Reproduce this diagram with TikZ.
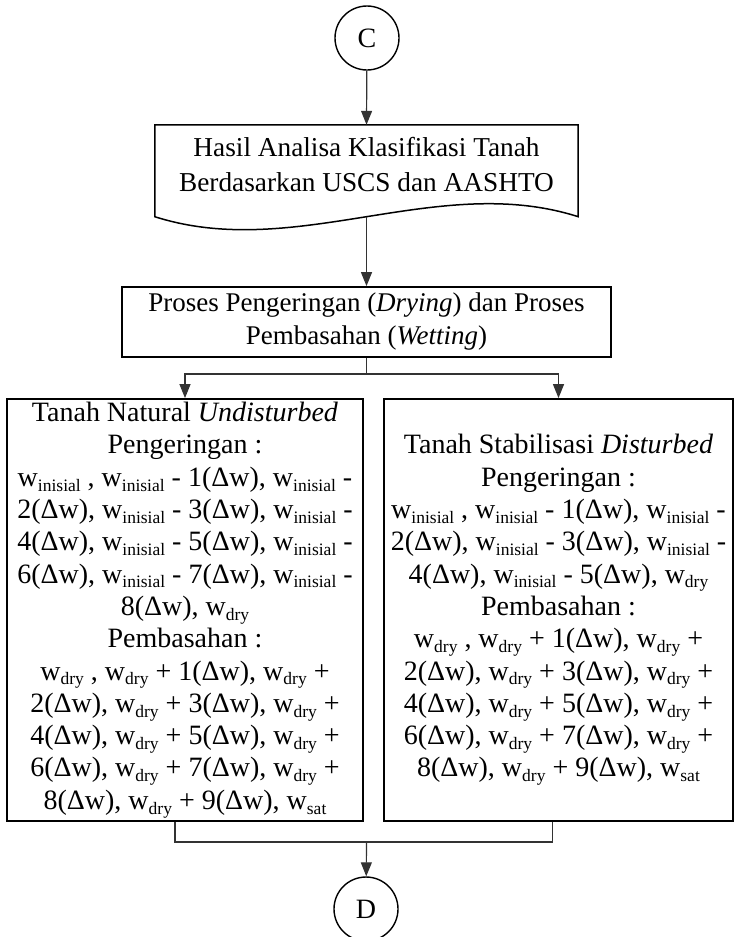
\documentclass[tikz,border=0pt]{standalone}
\usepackage{fontspec}
\setmainfont{Liberation Serif}
\usetikzlibrary{arrows.meta,positioning,shapes}
\newcommand{\subtx}[1]{\raisebox{-0.17em}{\fontsize{17.5}{17.5}\selectfont #1}}
\newcommand{\wini}{w\subtx{inisial}}
\newcommand{\wdry}{w\subtx{dry}}
\newcommand{\wsat}{w\subtx{sat}}
\newcommand{\dw}{(Δw)}

\begin{document}
\begin{tikzpicture}[x=1pt,y=-1pt,
	font=\fontsize{28}{32.3}\selectfont,
	konektor/.style={circle,draw,line width=1.4pt,minimum size=64pt,inner sep=0pt},
	kotak/.style={draw,line width=1.8pt,align=center,inner sep=0pt},
	garis/.style={draw=black!80,line width=1.2pt},
	panah/.style={garis,-{Triangle[width=11pt,length=14pt]}}]
	\useasboundingbox (0,0) rectangle (735,937);

	% penghubung awal
	\node[konektor] (C) at (367,38) {C};

	% dokumen hasil klasifikasi
	\node[minimum width=423pt,minimum height=79pt,inner sep=0pt,align=center,
		font=\fontsize{27.3}{35}\selectfont] (doc) at (366.5,164.5)
		{Hasil Analisa Klasifikasi Tanah\\Berdasarkan USCS dan AASHTO};
	\draw[line width=1.5pt] (doc.north west) -- (doc.north east) -- ([yshift=-12.5pt]doc.south east)
		.. controls +(-141,-45) and +(141,45) .. ([yshift=-12.5pt]doc.south west) -- cycle;
	\coordinate (docb) at ([yshift=-12.5pt]doc.south);

	% proses pengeringan dan pembasahan
	\node[kotak,minimum width=489pt,minimum height=70pt,font=\fontsize{27}{33}\selectfont]
		(proc) at (366.5,322)
		{Proses Pengeringan (\textit{Drying}) dan Proses\\Pembasahan (\textit{Wetting})};

	% tanah natural
	\node[kotak,minimum width=356pt,minimum height=422pt] (nat) at (185,610)
		{Tanah Natural \textit{Undisturbed}\\
		Pengeringan :\\
		\wini{} , \wini{} - 1\dw, \wini{} -\\
		2\dw, \wini{} - 3\dw, \wini{} -\\
		4\dw, \wini{} - 5\dw, \wini{} -\\
		6\dw, \wini{} - 7\dw, \wini{} -\\
		8\dw, \wdry\\
		Pembasahan :\\
		\wdry{} , \wdry{} + 1\dw, \wdry{} +\\
		2\dw, \wdry{} + 3\dw, \wdry{} +\\
		4\dw, \wdry{} + 5\dw, \wdry{} +\\
		6\dw, \wdry{} + 7\dw, \wdry{} +\\
		8\dw, \wdry{} + 9\dw, \wsat};

	% tanah stabilisasi
	\node[kotak,minimum width=349pt,minimum height=422pt] (stab) at (558.5,610)
		{Tanah Stabilisasi \textit{Disturbed}\\
		Pengeringan :\\
		\wini{} , \wini{} - 1\dw, \wini{} -\\
		2\dw, \wini{} - 3\dw, \wini{} -\\
		4\dw, \wini{} - 5\dw, \wdry\\
		Pembasahan :\\
		\wdry{} , \wdry{} + 1\dw, \wdry{} +\\
		2\dw, \wdry{} + 3\dw, \wdry{} +\\
		4\dw, \wdry{} + 5\dw, \wdry{} +\\
		6\dw, \wdry{} + 7\dw, \wdry{} +\\
		8\dw, \wdry{} + 9\dw, \wsat};

	% penghubung akhir
	\node[konektor] (D) at (366,909) {D};

	% garis alir
	\coordinate (cab) at (366.5,374);
	\coordinate (gab) at (366.5,842);
	\draw[panah] (C) -- (doc.north);
	\draw[panah] (docb) -- (proc.north);
	\draw[garis] (proc.south) -- (cab);
	\draw[panah] (cab) -| (nat.north);
	\draw[panah] (cab) -| (stab.north);
	\draw[garis] ([xshift=-10pt]nat.south) |- (gab) -| ([xshift=-6pt]stab.south);
	\draw[panah] (gab) -- (D);
\end{tikzpicture}
\end{document}
